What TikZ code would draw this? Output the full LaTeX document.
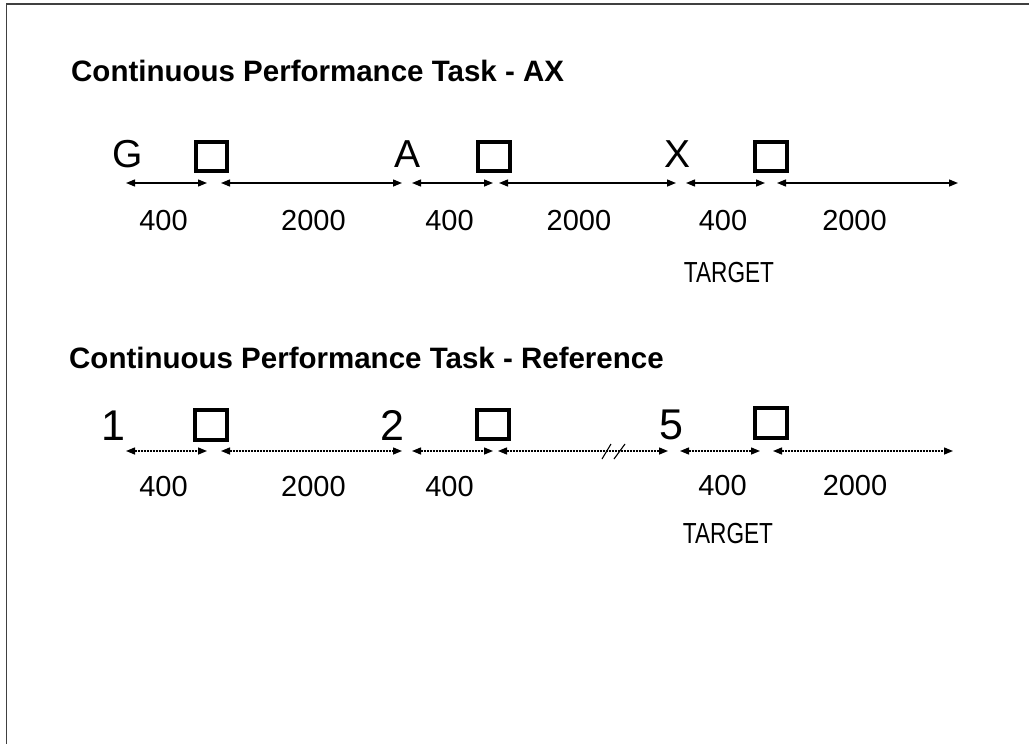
\documentclass[tikz,border=0pt]{standalone}
\usepackage{fontspec}
\setmainfont{Liberation Sans}
\usetikzlibrary{arrows.meta}

\begin{document}
\begin{tikzpicture}[x=1pt, y=-1pt,
    heading/.style = {anchor=base west, inner sep=0, font=\fontsize{29.5}{34}\selectfont\bfseries},
    cue/.style = {anchor=base, inner sep=0, font=\fontsize{39}{44}\selectfont},
    digit/.style = {anchor=base, inner sep=0, font=\fontsize{43}{48}\selectfont},
    probe/.style = {draw, line width=3.6pt, minimum width=31.5pt, minimum height=29.5pt, inner sep=0},
    delay/.style = {anchor=base, inner sep=0, font=\fontsize{29}{34}\selectfont},
    target/.style = {anchor=base, inner sep=0, font=\fontsize{29}{34}\selectfont},
    span/.style = {{Triangle[length=9pt,width=7pt]}-{Triangle[length=9pt,width=7pt]}, line width=1.4pt},
    dotspan/.style = {span, dash pattern=on 2pt off 1pt}]
                  \useasboundingbox (0,0) rectangle (1029,744);
                  \draw[line width=1.5pt, black!75] (1029,4) -- (6.5,4) -- (6.5,744);

                  % AX version
                  \node[heading] (h1) at (71,81) {Continuous Performance Task - AX};
                  \node[cue] (g) at (127.5,167) {G};
                  \node[probe] (p1) at (211.5,156.5) {};
                  \node[cue] (a) at (407.5,167) {A};
                  \node[probe] (p2) at (494,156.5) {};
                  \node[cue] (x) at (678,167) {X};
                  \node[probe] (p3) at (771,156.5) {};

                  \coordinate (g0) at (126,183);  \coordinate (g1) at (207,183);
                  \coordinate (g2) at (221,183);  \coordinate (g3) at (402,183);
                  \coordinate (a0) at (412,183);  \coordinate (a1) at (493,183);
                  \coordinate (a2) at (499,183);  \coordinate (a3) at (676,183);
                  \coordinate (x0) at (686,183);  \coordinate (x1) at (765,183);
                  \coordinate (x2) at (777,183);  \coordinate (x3) at (958,183);
                  \draw[span] (g0) -- (g1);
                  \draw[span] (g2) -- (g3);
                  \draw[span] (a0) -- (a1);
                  \draw[span] (a2) -- (a3);
                  \draw[span] (x0) -- (x1);
                  \draw[span] (x2) -- (x3);

                  \node[delay] (d1) at (163.5,230) {400};
                  \node[delay] (d2) at (313.5,230) {2000};
                  \node[delay] (d3) at (449.5,230) {400};
                  \node[delay] (d4) at (579,230) {2000};
                  \node[delay] (d5) at (723,230) {400};
                  \node[delay] (d6) at (854.5,230) {2000};
                  \node[target] (t1) at (729,282) {\scalebox{0.78}[1]{TARGET}};

                  % Reference version
                  \node[heading] (h2) at (69,368) {Continuous Performance Task - Reference};
                  \node[digit] (one) at (113,440) {1};
                  \node[probe] (q1) at (211,425) {};
                  \node[digit] (two) at (392,440) {2};
                  \node[probe] (q2) at (493,424.5) {};
                  \node[digit] (five) at (671.5,439) {5};
                  \node[probe] (q3) at (771,423) {};

                  \coordinate (n0) at (126,451);  \coordinate (n1) at (207,451);
                  \coordinate (n2) at (221,451);  \coordinate (n3) at (402,451);
                  \coordinate (m0) at (412,451);  \coordinate (m1) at (493,451);
                  \coordinate (m2) at (498,451);  \coordinate (m3) at (668,451);
                  \coordinate (f0) at (680,451);  \coordinate (f1) at (760,451);
                  \coordinate (f2) at (773,451);  \coordinate (f3) at (953,451);
                  \draw[dotspan] (n0) -- (n1);
                  \draw[dotspan] (n2) -- (n3);
                  \draw[dotspan] (m0) -- (m1);
                  \draw[dotspan] (m2) -- (m3);
                  \draw[dotspan] (f0) -- (f1);
                  \draw[dotspan] (f2) -- (f3);
                  \draw[line width=1.1pt] (602,459) -- (611,444);
                  \draw[line width=1.1pt] (614,459) -- (625,444);

                  \node[delay] (e1) at (163.5,496) {400};
                  \node[delay] (e2) at (313.5,496) {2000};
                  \node[delay] (e3) at (449.5,496) {400};
                  \node[delay] (e5) at (722.5,495) {400};
                  \node[delay] (e6) at (855,495) {2000};
                  \node[target] (t2) at (728,543) {\scalebox{0.78}[1]{TARGET}};
              \end{tikzpicture}
\end{document}
